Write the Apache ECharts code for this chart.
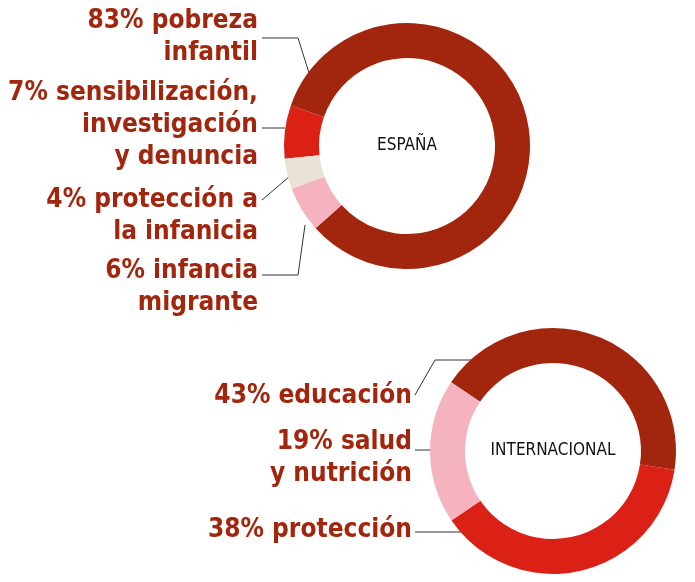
<!DOCTYPE html>
<html><head><meta charset="utf-8">
<script src="https://cdn.jsdelivr.net/npm/echarts@6/dist/echarts.min.js"></script>
<style>html,body{margin:0;padding:0;background:#fff}#c{width:695px;height:582px}</style>
</head><body><div id="c"></div>
<script>
const espLabels = ['83% pobreza\ninfantil','7% sensibilización,\ninvestigación\ny denuncia','4% protección a\nla infanicia','6% infancia\nmigrante'];
const espValues = [83,7,4,6];
const espColors = ['#a2260d','#db2116','#e9e3d6','#f5b3c0'];
const espLabelY = [37,125,216,287];
const espLines = [[[315,92],[298,38],[262,38]],[[285,128],[262,128]],[[290,176],[262,200]],[[305,225],[298,275],[262,275]]];
const intLabels = ['43% educación','38% protección','19% salud\ny nutrición'];
const intValues = [43,38,19];
const intColors = ['#a2260d','#db2116','#f5b3c0'];
const intLabelY = [396,530,458];
const intLines = [[[500,360],[435,360],[415,395]],[[495,532],[415,532]],[[465,450],[415,450]]];
const font = '"DejaVu Sans Condensed", "DejaVu Sans", sans-serif';
const chart = echarts.init(document.getElementById('c'));
function mk(labels, values, colors, ys, lines, center, start, clockwise, rightX){
  return {type:'pie', center:center, radius:[88,123], startAngle:start, clockwise:clockwise,
    silent:true, avoidLabelOverlap:false,
    data: labels.map((n,i)=>({name:n, value:values[i], itemStyle:{color:colors[i]}})),
    label:{show:true, formatter:'{b}', color:'#a2260d', fontFamily:font, fontWeight:'bold', fontSize:26, lineHeight:32, align:'right'},
    labelLine:{show:true, length:15, length2:20, lineStyle:{color:'#333', width:1}},
    labelLayout:function(p){return {x:rightX, y:ys[p.dataIndex], align:'right', verticalAlign:'middle', labelLinePoints:lines[p.dataIndex]};}
  };
}
chart.setOption({
  animation:false,
  series:[
    mk(espLabels, espValues, espColors, espLabelY, espLines, [407,146], 222, false, 258),
    mk(intLabels, intValues, intColors, intLabelY, intLines, [553,451], 146, true, 412)
  ],
  graphic:[
    {type:'text', x:407, y:146, style:{text:'ESPAÑA', font:'17px '+font, fill:'#111', textAlign:'center', textVerticalAlign:'middle'}},
    {type:'text', x:553, y:451, style:{text:'INTERNACIONAL', font:'17px '+font, fill:'#111', textAlign:'center', textVerticalAlign:'middle'}}
  ]
});
</script></body></html>
